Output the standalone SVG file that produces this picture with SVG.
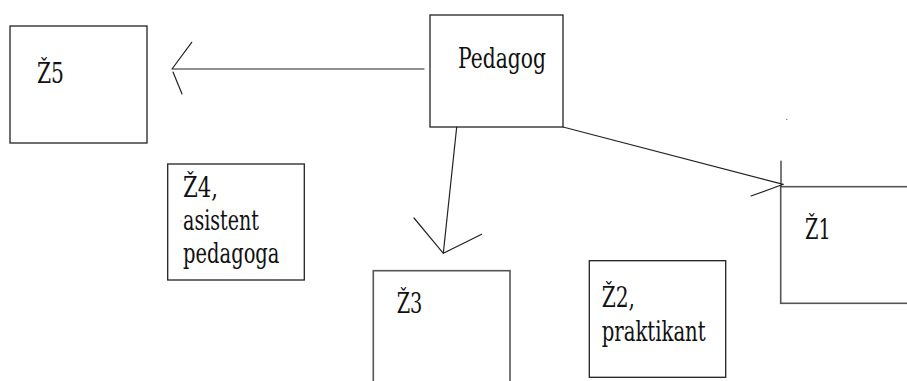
<svg xmlns="http://www.w3.org/2000/svg" width="907" height="381" viewBox="0 0 907 381">
<style>
.box{fill:#fff;stroke:#222;stroke-width:1.3}
.gbox{fill:#fff;stroke:#555;stroke-width:1.6}
.con{fill:none;stroke:#222;stroke-width:1.2;stroke-linecap:round}
</style>
<rect width="907" height="381" fill="#fff"/>
<g font-family="DejaVu Serif, Liberation Serif, serif" font-size="27" fill="#111">
<g id="node-z5">
<rect class="box" x="10" y="26" width="137" height="117"/>
<text x="37" y="83" textLength="27" lengthAdjust="spacingAndGlyphs">Ž5</text>
</g>
<g id="node-pedagog">
<rect class="box" x="430" y="15" width="133" height="112"/>
<text x="458" y="68" textLength="88" lengthAdjust="spacingAndGlyphs">Pedagog</text>
</g>
<g id="node-z4">
<rect class="box" x="167.7" y="164" width="136.6" height="116"/>
<text x="183" y="196.7" textLength="35" lengthAdjust="spacingAndGlyphs">Ž4,</text>
<text x="183" y="230" textLength="76" lengthAdjust="spacingAndGlyphs">asistent</text>
<text x="183" y="263.3" textLength="96.5" lengthAdjust="spacingAndGlyphs">pedagoga</text>
<rect x="180.5" y="220.5" width="1" height="1" fill="#b98"/>
</g>
<g id="node-z3">
<rect class="gbox" x="373.3" y="270.7" width="136.7" height="130"/>
<text x="396.7" y="313.3" textLength="25.7" lengthAdjust="spacingAndGlyphs">Ž3</text>
</g>
<g id="node-z2">
<rect class="box" x="589.3" y="260.7" width="136.4" height="116.6"/>
<text x="601.7" y="307.3" textLength="33.3" lengthAdjust="spacingAndGlyphs">Ž2,</text>
<text x="601.7" y="341" textLength="104" lengthAdjust="spacingAndGlyphs">praktikant</text>
</g>
<g id="node-z1">
<rect class="gbox" x="780.7" y="186.7" width="140" height="116.6"/>
<text x="805" y="239.3" textLength="25.7" lengthAdjust="spacingAndGlyphs">Ž1</text>
</g>
</g>
<g id="connectors">
<path class="con" d="M424,69 L172,69 M172,69 L191.7,42.3 M173,72 L182,94"/>
<path class="con" d="M456.7,127 L443.3,253.3 M414,218 L443.3,253.3 L481.7,234.3"/>
<path class="con" d="M563,127 L783.3,184.3 M781,161 L781,186 M751,196 L783.3,184.3"/>
<rect x="786.3" y="119" width="1" height="1" fill="#555"/>
</g>
</svg>
